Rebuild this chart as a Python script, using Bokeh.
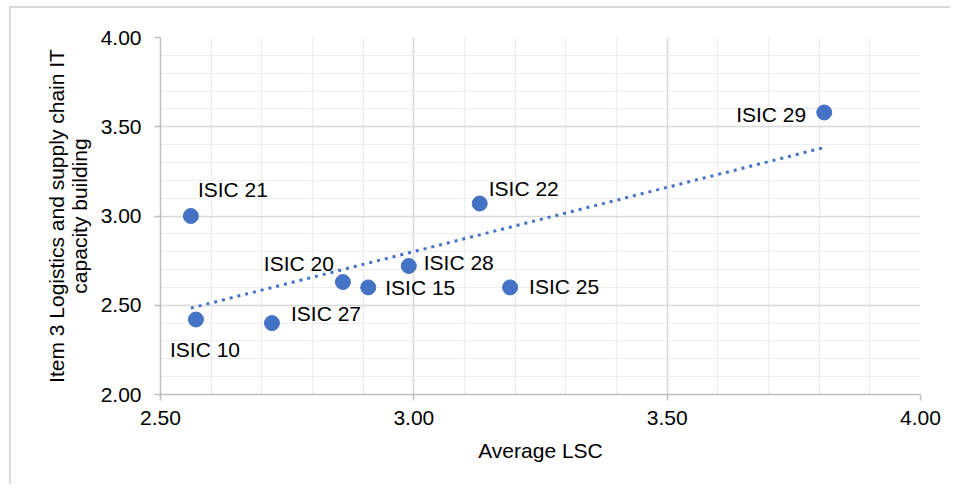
import numpy as np
from bokeh.plotting import figure
from bokeh.models import FixedTicker, NumeralTickFormatter, ColumnDataSource, Range1d
from bokeh.core.properties import value
from bokeh.embed import file_html
from bokeh.resources import INLINE

# ---- data ----
labels = ["ISIC 10", "ISIC 21", "ISIC 20", "ISIC 15", "ISIC 28", "ISIC 22", "ISIC 25", "ISIC 27", "ISIC 29"]
avg_lsc = [2.57, 2.56, 2.86, 2.91, 2.99, 3.13, 3.19, 2.72, 3.81]
item3 = [2.42, 3.00, 2.63, 2.60, 2.72, 3.07, 2.60, 2.40, 3.58]
x_ticks = [2.5, 3.0, 3.5, 4.0]
y_ticks = [2.0, 2.5, 3.0, 3.5, 4.0]

# label placement (screen px, y down) and alignment
label_dx = [9, 7, -9, 17, 15, 9, 19, 19, -18]
label_dy = [30, -27, -19, 0, -3, -15, -1, -10, 2]
label_align = ["center", "left", "right", "left", "left", "left", "left", "left", "right"]

FONT = "Liberation Sans"
FS = "21px"
BLUE = "#4472C4"

p = figure(width=950, height=484, output_backend="svg", toolbar_location=None,
           x_range=Range1d(2.5, 4.0), y_range=Range1d(2.0, 4.0),
           min_border_left=160, min_border_top=37, min_border_right=30, min_border_bottom=90)
p.outline_line_color = None
p.background_fill_color = "white"
p.border_fill_color = None
# outer chart border (only its left/top edges fall inside the picture)
p.styles = {
    "background": "linear-gradient(#d9d9d9,#d9d9d9) 9px 6px / 2px 100% no-repeat, "
                  "linear-gradient(#d9d9d9,#d9d9d9) 9px 6px / 100% 2px no-repeat, white"
}

# grid
p.xaxis.ticker = FixedTicker(ticks=x_ticks, minor_ticks=[round(2.5 + 0.1 * i, 2) for i in range(16)])
p.yaxis.ticker = FixedTicker(ticks=y_ticks, minor_ticks=[round(2.0 + 0.1 * i, 2) for i in range(21)])
for g in (p.xgrid, p.ygrid):
    g.grid_line_color = "#d9d9d9"
    g.grid_line_width = 1.5
    g.minor_grid_line_color = "#ededed"
    g.minor_grid_line_width = 1.2

for ax in (p.xaxis, p.yaxis):
    ax.formatter = NumeralTickFormatter(format="0.00")
    ax.axis_line_color = "#bfbfbf"
    ax.axis_line_width = 1.5
    ax.major_tick_line_color = "#bfbfbf"
    ax.major_tick_line_width = 1.5
    ax.major_tick_out = 6
    ax.major_tick_in = 0
    ax.minor_tick_line_color = None
    ax.major_label_text_font = FONT
    ax.major_label_text_font_size = FS
    ax.major_label_text_color = "#000000"
    ax.axis_label_text_font = FONT
    ax.axis_label_text_font_size = FS
    ax.axis_label_text_font_style = "normal"
    ax.axis_label_text_color = "#000000"

p.xaxis.axis_label = "Average LSC"
p.xaxis.major_label_standoff = 10
p.xaxis.axis_label_standoff = 11
p.yaxis.axis_label = "Item 3 Logistics and supply chain IT\ncapacity building"
p.yaxis.axis_label_text_line_height = 1.0
p.yaxis.major_label_standoff = 13
p.yaxis.axis_label_standoff = 7

# trendline (linear fit of the data)
m, b = np.polyfit(avg_lsc, item3, 1)
tx = [min(avg_lsc), max(avg_lsc)]
ty = [m * v + b for v in tx]
p.line(tx, ty, line_color=BLUE, line_width=3, line_dash="3 5")

src = ColumnDataSource(dict(x=avg_lsc, y=item3, label=labels, dx=label_dx, dy=label_dy, al=label_align))
p.scatter("x", "y", source=src, size=15, fill_color=BLUE, line_color=BLUE)
p.text("x", "y", text="label", source=src, x_offset="dx", y_offset="dy", text_align="al",
       text_baseline="alphabetic", text_font=value(FONT), text_font_size=FS, text_color="#000000")

open("out.html", "w").write(file_html(p, INLINE))
